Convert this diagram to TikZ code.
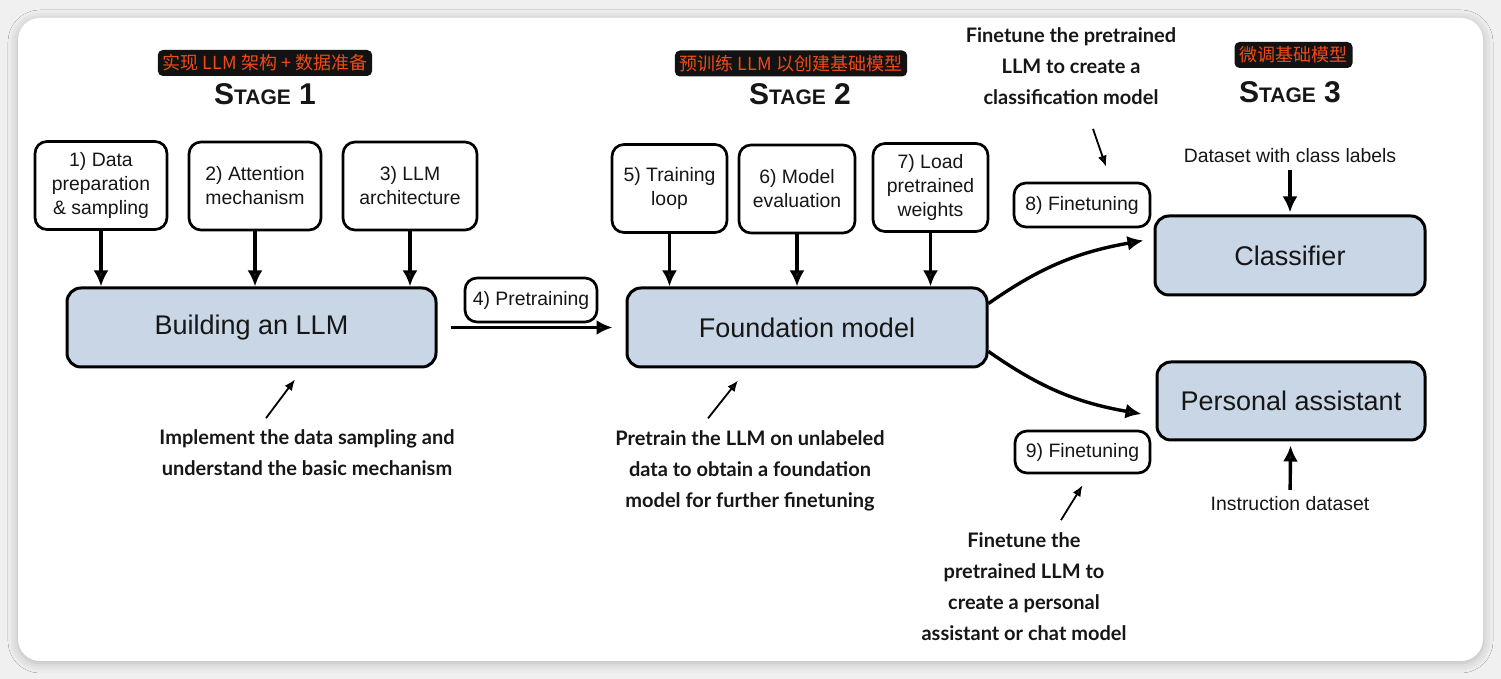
\documentclass[tikz,border=0pt]{standalone}
\usepackage{fontspec}
\setmainfont{Liberation Sans}
\newfontfamily\notefont{Lato}
\newfontfamily\cjk{Noto Sans CJK SC}
\usetikzlibrary{arrows.meta,shadows.blur}

\definecolor{boxblue}{RGB}{201,214,230}
\definecolor{cnblack}{RGB}{18,18,18}
\definecolor{cnred}{RGB}{240,74,24}
\definecolor{inkblack}{RGB}{22,22,22}

\newcommand{\stagename}[1]{{\fontsize{15}{15}\selectfont S}{\fontsize{10.5}{10.5}\selectfont TAGE}{\fontsize{15}{15}\selectfont\ #1}}

\begin{document}
\begin{tikzpicture}[
      x=0.5pt, y=0.5pt,
      >={Latex[length=8pt,width=7.5pt]},
      every node/.style={font=\fontsize{9.7}{12}\selectfont, text=inkblack},
      stepbox/.style={draw, line width=1.35pt, rounded corners=6pt, fill=white, minimum height=44pt, align=center, inner sep=2pt},
      ftbox/.style={draw, line width=1.35pt, rounded corners=6pt, fill=white, minimum height=22pt, inner sep=2pt},
      mainbox/.style={draw, line width=1.5pt, rounded corners=7pt, fill=boxblue, minimum height=39.5pt, font=\fontsize{13.5}{16}\selectfont},
      cnlabel/.style={fill=cnblack, rounded corners=2.5pt, text=cnred, font=\cjk\fontsize{9}{10}\selectfont, minimum height=13pt, inner xsep=2.5pt, inner ysep=0pt},
      stage/.style={font=\bfseries},
      note/.style={align=center, font=\notefont\bfseries\fontsize{10}{15.5}\selectfont, inner sep=0pt},
      flow/.style={->, line width=1.7pt},
      hint/.style={-{Latex[length=5.5pt,width=4.5pt]}, line width=0.9pt},
    ]

    \useasboundingbox (0,0) rectangle (1501,679);
    \fill[gray!12] (0,0) rectangle (1501,679);
    \fill[white, rounded corners=11pt, blur shadow={shadow xshift=0pt, shadow yshift=-1pt, shadow blur radius=5pt, shadow opacity=25}] (18,18) rectangle (1483,661);

    % stage 1
    \node[cnlabel] (cn1) at (265,616) {实现 LLM 架构 + 数据准备};
    \node[stage] (stage1) at (265,585) {\stagename{1}};

    \node[stepbox, minimum width=66pt] (data) at (101,493.5) {1) Data\\preparation\\\& sampling};
    \node[stepbox, minimum width=66pt] (attn) at (255,493) {2) Attention\\mechanism};
    \node[stepbox, minimum width=67pt] (arch) at (410,493) {3) LLM\\architecture};
    \node[mainbox, minimum width=184.5pt] (build) at (251.5,351.5) {Building an LLM};

    \node[note] (impl) at (307,226.5) {Implement the data sampling and\\understand the basic mechanism};

    % stage 2
    \node[ftbox, minimum width=66pt] (pretrain) at (531,379) {4) Pretraining};

    \node[cnlabel] (cn2) at (791,615.5) {预训练 LLM 以创建基础模型};
    \node[stage] (stage2) at (800,585) {\stagename{2}};

    \node[stepbox, minimum width=57.5pt] (loop) at (669.5,490.5) {5) Training\\loop};
    \node[stepbox, minimum width=58pt] (eval) at (797,490) {6) Model\\evaluation};
    \node[stepbox, minimum width=57.5pt] (load) at (930.5,491.5) {7) Load\\pretrained\\weights};
    \node[mainbox, minimum width=180pt] (found) at (807,351.5) {Foundation model};

    \node[note] (pre) at (750,208) {Pretrain the LLM on unlabeled\\data to obtain a foundation\\model for further finetuning};

    % stage 3
    \node[note] (cls note) at (1071,613) {Finetune the pretrained\\LLM to create a\\classification model};
    \node[ftbox, minimum width=68pt] (ft8) at (1082,474) {8) Finetuning};
    \node[ftbox, minimum width=67.5pt, minimum height=21pt] (ft9) at (1082.5,227) {9) Finetuning};
    \node[note] (chat note) at (1024,92.5) {Finetune the\\pretrained LLM to\\create a personal\\assistant or chat model};

    \node[cnlabel] (cn3) at (1293.5,624) {微调基础模型};
    \node[stage] (stage3) at (1290,587) {\stagename{3}};

    \node (labels) at (1290,523) {Dataset with class labels};
    \node[mainbox, minimum width=135pt] (cls) at (1290,423.5) {Classifier};
    \node[mainbox, minimum width=134pt, minimum height=39pt] (pa) at (1291,278) {Personal assistant};
    \node (instr) at (1290,175) {Instruction dataset};

    % arrows
    \foreach \s in {data, attn, arch}
      \draw[flow] (\s.south) -- (\s.south |- build.north);
    \foreach \s in {loop, eval, load}
      \draw[flow] (\s.south) -- (\s.south |- found.north);

    \draw[flow, shorten <=6.5pt, shorten >=6.5pt] (build.east) -- (found.west);
    \draw[flow] ([yshift=12pt]found.east) to[out=35, in=190] ([shift={(-5pt,7.5pt)}]cls.west);
    \draw[flow] ([yshift=-12pt]found.east) to[out=-35, in=170] ([shift={(-7pt,-6.5pt)}]pa.west);
    \draw[flow, shorten >=1pt] (labels) -- (cls);
    \draw[flow, shorten >=2pt] (instr) -- (pa);

    \draw[hint] ([shift={(-20.5pt,5.5pt)}]impl.north) -- ([shift={(21.75pt,-5.5pt)}]build.south);
    \draw[hint] ([shift={(-21pt,6pt)}]pre.north) -- ([shift={(-34.5pt,-6pt)}]found.south);
    \draw[hint] ([shift={(11pt,-12pt)}]cls note.south) -- ([shift={(12pt,7.5pt)}]ft8.north);
    \draw[hint] ([shift={(18.5pt,6pt)}]chat note.north) -- ([shift={(0pt,-5.5pt)}]ft9.south);

  \end{tikzpicture}
\end{document}
